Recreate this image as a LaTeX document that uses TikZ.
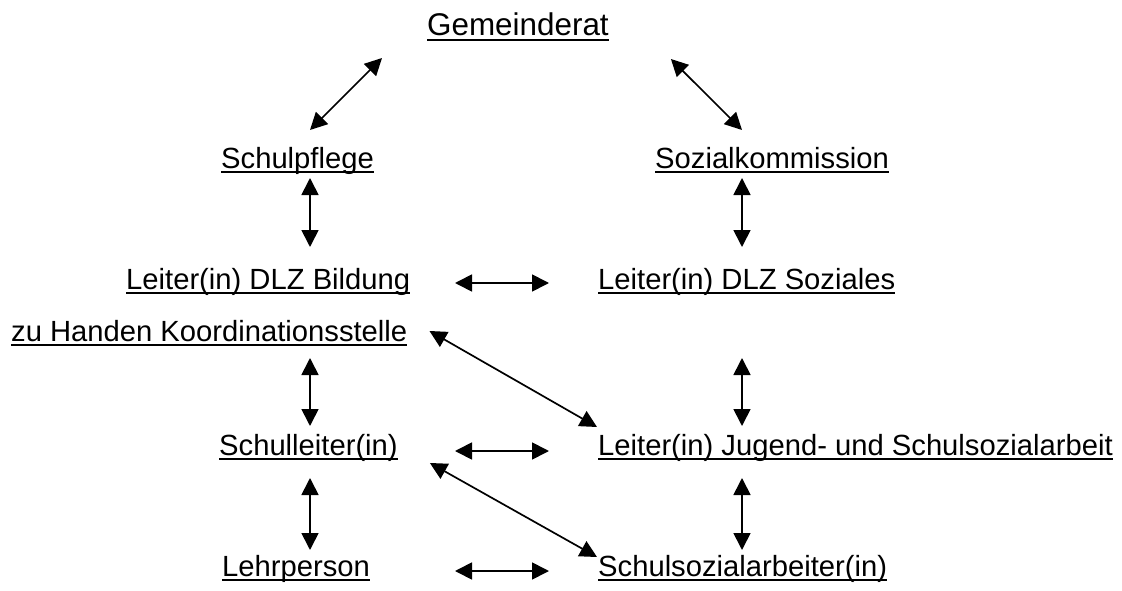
\documentclass[tikz,border=0pt]{standalone}
\usepackage{fontspec}
\setmainfont{Liberation Sans}
\usepackage{tikz}
\usetikzlibrary{arrows.meta, calc}
\tikzset{orgnode/.style={inner sep=0pt, anchor=base west,
    font=\fontsize{29.2}{35}\selectfont,
    append after command={([yshift=-4pt]\tikzlastnode.base west)
      edge[line width=2.2pt] ([yshift=-4pt]\tikzlastnode.base east)}},
  biarrow/.style={line width=1.7pt,
    {Triangle[length=17pt 0 0,width=17pt 0 0]}-{Triangle[length=17pt 0 0,width=17pt 0 0]}}}

\begin{document}
\begin{tikzpicture}[x=1pt, y=-1pt]

\useasboundingbox (0,0) rectangle (1122,591);

% nodes
\node [style = orgnode, font=\fontsize{31.4}{37}\selectfont] (gem) at (427,36) {Gemeinderat};
\node [style = orgnode] (sp) at (221,168) {Schulpflege};
\node [style = orgnode] (sk) at (655,168) {Sozialkommission};
\node [style = orgnode] (bil) at (126,289) {Leiter(in) DLZ Bildung};
\node [style = orgnode] (soz) at (598,289) {Leiter(in) DLZ Soziales};
\node [style = orgnode] (koord) at (11,341) {zu Handen Koordinationsstelle};
\node [style = orgnode] (sl) at (219,455) {Schulleiter(in)};
\node [style = orgnode] (jug) at (598,455) {Leiter(in) Jugend- und Schulsozialarbeit};
\node [style = orgnode] (lp) at (222,576) {Lehrperson};
\node [style = orgnode] (ss) at (598,576) {Schulsozialarbeiter(in)};

% columns for the arrows
\coordinate (colL) at (310,0);
\coordinate (colR) at (742,0);
\coordinate (midL) at (455,0);
\coordinate (midR) at (549,0);

% edges
\draw [style = biarrow] ($(gem.base west)+(-45,22)$) to ($(sp.base -| colL)+(0,-38)$);
\draw [style = biarrow] ($(gem.base east)+(62,23)$) to ($(sk.base -| colR)+(0,-38)$);
\draw [style = biarrow] ($(sp.base -| colL)+(0,10)$) to ($(bil.base -| colL)+(0,-42)$);
\draw [style = biarrow] ($(sk.base -| colR)+(0,10)$) to ($(soz.base -| colR)+(0,-42)$);
\draw [style = biarrow] ($(bil.base -| midL)+(0,-6)$) to ($(soz.base -| midR)+(0,-6)$);
\draw [style = biarrow] ($(koord.base east)+(22,-10)$) to ($(jug.base west)+(-1,-28)$);
\draw [style = biarrow] ($(koord.base -| colL)+(0,17)$) to ($(sl.base -| colL)+(0,-29)$);
\draw [style = biarrow] ($(soz.base -| colR)+(0,69)$) to ($(jug.base -| colR)+(0,-29)$);
\draw [style = biarrow] ($(sl.base -| midL)+(0,-4)$) to ($(jug.base -| midR)+(0,-4)$);
\draw [style = biarrow] ($(sl.base east)+(32,8)$) to ($(ss.base west)+(-1,-19)$);
\draw [style = biarrow] ($(sl.base -| colL)+(0,23)$) to ($(lp.base -| colL)+(0,-26)$);
\draw [style = biarrow] ($(jug.base -| colR)+(0,23)$) to ($(ss.base -| colR)+(0,-26)$);
\draw [style = biarrow] ($(lp.base -| midL)+(0,-5)$) to ($(ss.base -| midR)+(0,-5)$);

\end{tikzpicture}
\end{document}
